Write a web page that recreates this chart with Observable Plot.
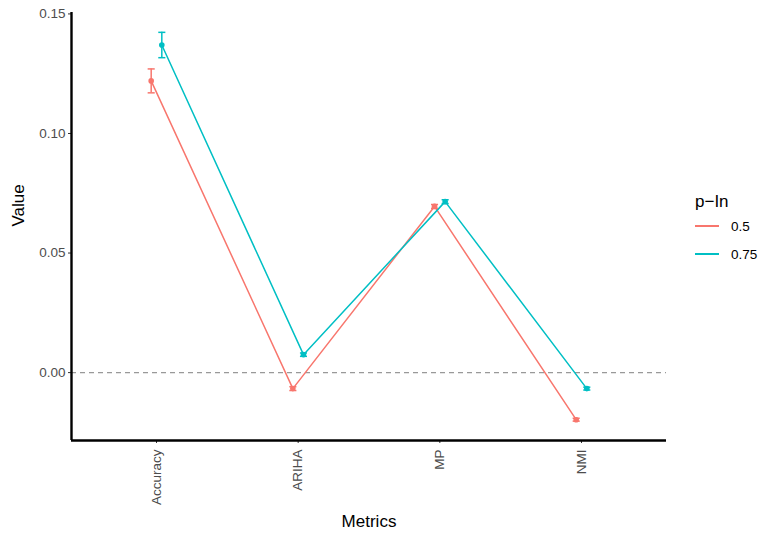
<!DOCTYPE html>
<html>
<head>
<meta charset="utf-8">
<script src="https://cdn.jsdelivr.net/npm/d3@7"></script>
<script src="https://cdn.jsdelivr.net/npm/@observablehq/plot@0.6"></script>
<style>
  html, body { margin: 0; padding: 0; background: #fff; }
  #wrap { position: relative; width: 763px; height: 535px; font-family: "Liberation Sans", Arial, sans-serif; }
  #legend { position: absolute; left: 695px; top: 188px; font-family: "Liberation Sans", Arial, sans-serif; }
  #legend .title { font-size: 17px; color: #000; margin-top: 4px; margin-bottom: 0; line-height: 20px; }
  #legend .item { display: flex; align-items: center; height: 28px; font-size: 13.5px; color: #000; }
  #legend .key { width: 24px; height: 1.6px; margin-right: 12px; }
</style>
</head>
<body>
<div id="wrap"></div>
<script>
const metrics = ["Accuracy", "ARIHA", "MP", "NMI"];
const groups = ["0.5", "0.75"];
const colors = ["#F8766D", "#00BFC4"];
const value05 = [0.122, -0.0067, 0.0695, -0.0197];
const value075 = [0.137, 0.0075, 0.0715, -0.0067];
const err05 = [0.005, 0.0008, 0.0008, 0.0006];
const err075 = [0.0053, 0.0007, 0.0008, 0.0006];
const yTicks = [0, 0.05, 0.10, 0.15];

const dodge = 0.0375, cap = 0.025;
const rows = [];
[[value05, err05], [value075, err075]].forEach(([vals, errs], g) => {
  metrics.forEach((m, i) => {
    rows.push({metric: m, group: groups[g], x: i + (g === 0 ? -dodge : dodge), value: vals[i], lo: vals[i] - errs[i], hi: vals[i] + errs[i]});
  });
});

const xDomain = [-0.6, metrics.length - 1 + 0.6];
const yDomain = [-0.0284, 0.1506];
const color = {domain: groups, range: colors};

const plot = Plot.plot({
  width: 763,
  height: 535,
  marginLeft: 71,
  marginRight: 97,
  marginTop: 12,
  marginBottom: 95,
  style: {fontFamily: "Liberation Sans, Arial, sans-serif", background: "#fff"},
  x: {domain: xDomain, axis: null},
  y: {domain: yDomain, axis: null},
  color,
  marks: [
    Plot.ruleY([0], {stroke: "#999", strokeDasharray: "5,4", strokeWidth: 1.1}),
    Plot.line(rows, {x: "x", y: "value", z: "group", stroke: "group", strokeWidth: 1.5}),
    Plot.ruleX(rows, {x: "x", y1: "lo", y2: "hi", stroke: "group", strokeWidth: 1.5}),
    Plot.link(rows, {x1: d => d.x - cap, x2: d => d.x + cap, y1: "hi", y2: "hi", stroke: "group", strokeWidth: 1.5}),
    Plot.link(rows, {x1: d => d.x - cap, x2: d => d.x + cap, y1: "lo", y2: "lo", stroke: "group", strokeWidth: 1.5}),
    Plot.dot(rows, {x: "x", y: "value", fill: "group", r: 2.8}),
    Plot.axisY(yTicks, {tickFormat: d => d.toFixed(2), tickSize: 3, tickPadding: 3, fontSize: 13.5, color: "#4D4D4D", stroke: "#333", label: null}),
    Plot.axisX(d3.range(metrics.length), {tickFormat: i => metrics[i], tickSize: 3, tickPadding: 6, tickRotate: -90, fontSize: 13.5, color: "#4D4D4D", stroke: "#333", label: null}),
    Plot.ruleX([xDomain[0]], {stroke: "#000", strokeWidth: 2.4}),
    Plot.ruleY([yDomain[0]], {stroke: "#000", strokeWidth: 2.4}),
    Plot.text(["Value"], {frameAnchor: "left", dx: -53, rotate: -90, fontSize: 17, fill: "#000"}),
    Plot.text(["Metrics"], {frameAnchor: "bottom", dy: 86, fontSize: 17, fill: "#000"})
  ]
});
document.getElementById("wrap").appendChild(plot);

const legend = document.createElement("div");
legend.id = "legend";
legend.innerHTML = `<div class="title">p−In</div>` + groups.map((g, i) =>
  `<div class="item"><span class="key" style="background:${colors[i]}"></span>${g}</div>`).join("");
document.getElementById("wrap").appendChild(legend);
</script>
</body>
</html>
